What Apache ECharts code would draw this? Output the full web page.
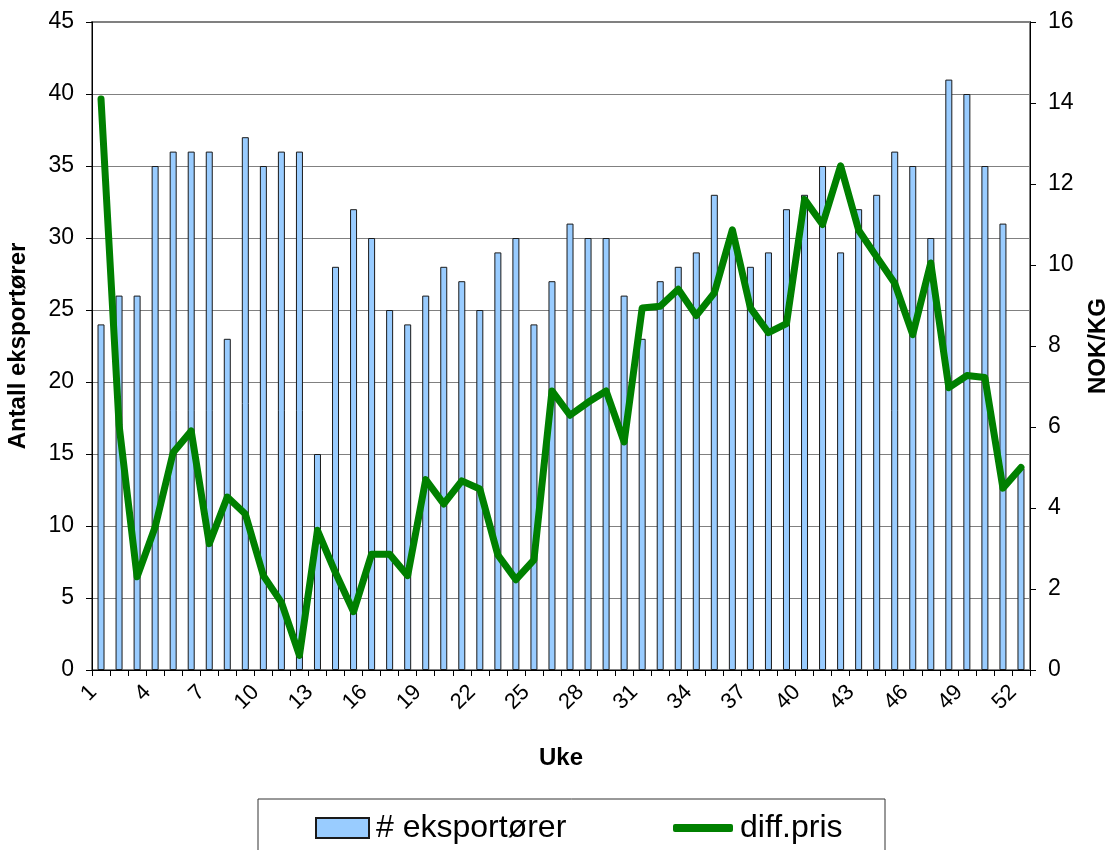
<!DOCTYPE html>
<html>
<head>
<meta charset="utf-8">
<title>Eksportører og diff.pris per uke</title>
<script src="https://cdn.jsdelivr.net/npm/echarts@6/dist/echarts.min.js"></script>
<style>
  html, body { margin: 0; padding: 0; background: #ffffff; }
  #chart { width: 1112px; height: 850px; }
</style>
</head>
<body>
<div id="chart"></div>
<script>
// Week numbers on the category axis
const weeks = ['1','2','3','4','5','6','7','8','9','10','11','12','13','14','15','16','17','18','19','20',
  '21','22','23','24','25','26','27','28','29','30','31','32','33','34','35','36','37','38','39','40',
  '41','42','43','44','45','46','47','48','49','50','51','52'];

// Number of exporters per week (left axis)
const exporters = [24, 26, 26, 35, 36, 36, 36, 23, 37, 35, 36, 36, 15, 28, 32, 30, 25, 24, 26, 28,
  27, 25, 29, 30, 24, 27, 31, 30, 30, 26, 23, 27, 28, 29, 33, 30, 28, 29, 32, 33,
  35, 29, 32, 33, 36, 35, 30, 41, 40, 35, 31, 14];

// Price difference in NOK/KG per week (right axis)
const diffPris = [14.1, 6.05, 2.3, 3.53, 5.37, 5.9, 3.12, 4.27, 3.85, 2.33, 1.67, 0.36, 3.45, 2.4, 1.44, 2.86, 2.86, 2.33, 4.7, 4.1,
  4.67, 4.47, 2.84, 2.23, 2.72, 6.89, 6.29, 6.61, 6.89, 5.63, 8.94, 8.98, 9.4, 8.75, 9.31, 10.87, 8.94, 8.33, 8.55, 11.62,
  11.0, 12.45, 10.86, 10.2, 9.55, 8.28, 10.05, 6.97, 7.27, 7.22, 4.49, 5.0];

const FONT = "'Liberation Sans', Arial, sans-serif";

const chart = echarts.init(document.getElementById('chart'), null, { renderer: 'canvas' });

chart.setOption({
  backgroundColor: '#ffffff',
  animation: false,
  textStyle: { fontFamily: FONT, color: '#000' },
  grid: {
    left: 92, right: 82, top: 22, bottom: 180,
    outerBoundsMode: 'none',
    containLabel: false,
    show: true, borderColor: '#808080', borderWidth: 2, backgroundColor: 'transparent'
  },
  legend: [
    {
      data: ['# eksportører'],
      left: 315, top: 812, padding: 0,
      icon: 'rect',
      itemWidth: 53, itemHeight: 20, itemGap: 0,
      textStyle: { fontFamily: FONT, fontSize: 32, color: '#000', padding: [0, 0, 0, 2] }
    },
    {
      data: ['diff.pris'],
      left: 673, top: 812, padding: 0,
      icon: 'roundRect',
      itemWidth: 60, itemHeight: 8, itemGap: 0,
      textStyle: { fontFamily: FONT, fontSize: 32, color: '#000', padding: [0, 0, 0, 2] }
    }
  ],
  graphic: [
    {
      type: 'rect',
      silent: true,
      shape: { x: 258, y: 799, width: 627, height: 80 },
      style: { fill: 'none', stroke: '#333', lineWidth: 1 }
    }
  ],
  xAxis: {
    type: 'category',
    data: weeks,
    boundaryGap: true,
    name: 'Uke',
    nameLocation: 'middle',
    nameGap: 76,
    nameTextStyle: { fontFamily: FONT, fontSize: 24, fontWeight: 'bold', color: '#000' },
    axisLine: { lineStyle: { color: '#000', width: 1 } },
    axisTick: { show: true, interval: 0, length: 6, lineStyle: { color: '#000' } },
    axisLabel: {
      interval: 2, rotate: 45, fontSize: 22, color: '#000', margin: 11,
      padding: [0, 11, 0, 0], fontFamily: FONT
    },
    splitLine: { show: false }
  },
  yAxis: [
    {
      type: 'value',
      min: 0, max: 45, interval: 5,
      name: 'Antall eksportører',
      nameLocation: 'middle',
      nameRotate: 90,
      nameGap: 62,
      nameTextStyle: { fontFamily: FONT, fontSize: 24, fontWeight: 'bold', color: '#000' },
      axisLine: { show: true, lineStyle: { color: '#000', width: 1 } },
      axisTick: { show: true, length: 6, lineStyle: { color: '#000' } },
      axisLabel: { fontSize: 23, color: '#000', margin: 18, fontFamily: FONT },
      splitLine: { show: true, lineStyle: { color: '#808080', width: 1 } }
    },
    {
      type: 'value',
      min: 0, max: 16, interval: 2,
      position: 'right',
      name: 'NOK/KG',
      nameLocation: 'middle',
      nameRotate: 90,
      nameGap: 56,
      nameTextStyle: { fontFamily: FONT, fontSize: 24, fontWeight: 'bold', color: '#000' },
      axisLine: { show: true, lineStyle: { color: '#000', width: 1 } },
      axisTick: { show: true, length: 6, lineStyle: { color: '#000' } },
      axisLabel: { fontSize: 23, color: '#000', margin: 18, fontFamily: FONT },
      splitLine: { show: false }
    }
  ],
  series: [
    {
      name: '# eksportører',
      type: 'bar',
      yAxisIndex: 0,
      data: exporters,
      barWidth: 7,
      itemStyle: { color: '#99CCFF', borderColor: '#1a1a1a', borderWidth: 1 },
      z: 2
    },
    {
      name: 'diff.pris',
      type: 'line',
      yAxisIndex: 1,
      data: diffPris,
      symbol: 'none',
      showSymbol: false,
      lineStyle: { color: '#008000', width: 7, cap: 'round', join: 'round' },
      itemStyle: { color: '#008000' },
      z: 3
    }
  ]
});
</script>
</body>
</html>
